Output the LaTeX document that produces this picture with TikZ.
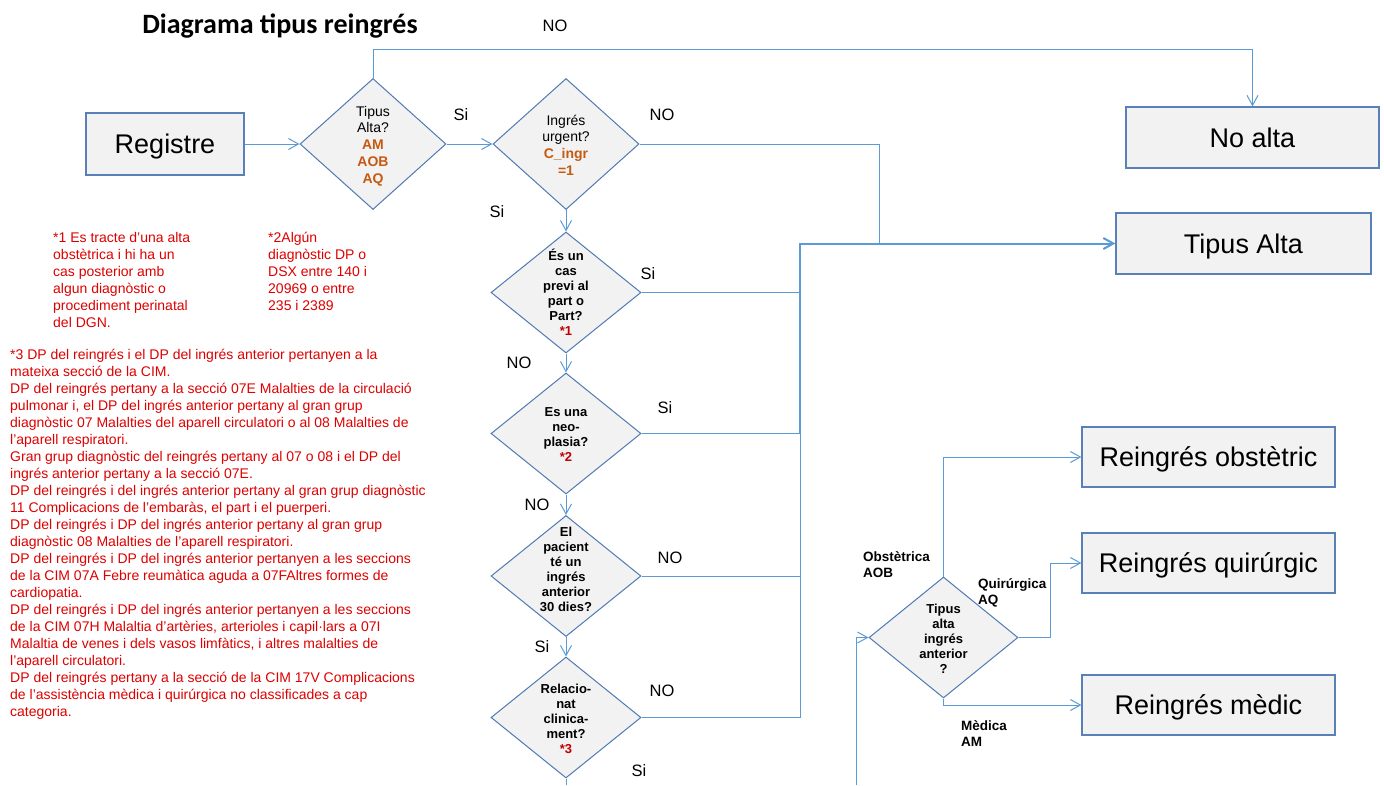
\documentclass[tikz,border=0pt]{standalone}
\usepackage{fontspec}
\setmainfont{Liberation Sans}
\newfontfamily\titlefont{Carlito}
\usetikzlibrary{arrows.meta,shapes.geometric}
\definecolor{boxfill}{HTML}{F2F2F2}
\definecolor{boxline}{HTML}{5A80B8}
\definecolor{dialine}{HTML}{4F7AB2}
\definecolor{conn}{HTML}{5B9BD5}
\definecolor{orng}{HTML}{C55A11}
\definecolor{notered}{HTML}{DD0000}
\definecolor{starred}{HTML}{C00000}
\begin{document}
\begin{tikzpicture}[x=1pt,y=-1pt,
  bigbox/.style={draw=boxline, line width=1.2pt, fill=boxfill, rectangle, inner sep=0pt,
    minimum width=#1, minimum height=61pt, text height=19.4pt, text depth=0pt,
    font=\fontsize{27}{30}\selectfont},
  dia/.style={draw=dialine, line width=1pt, fill=boxfill, diamond, inner sep=0pt,
    minimum width=#1, minimum height=121pt},
  dtext/.style={align=center, font=\fontsize{13}{15}\selectfont\bfseries, inner sep=0pt},
  lbl/.style={font=\fontsize{16.5}{18}\selectfont, inner sep=0pt},
  blbl/.style={align=left, font=\fontsize{13.5}{16}\selectfont\bfseries, inner sep=0pt, anchor=west},
  note/.style={align=left, font=\fontsize{14}{17}\selectfont, text=notered, inner sep=0pt, anchor=north west},
  arr/.style={draw=conn, line width=1pt, -{Straight Barb[length=10pt,width=11pt]}},
  ln/.style={draw=conn, line width=1pt}
]
\useasboundingbox (0,0) rectangle (1384,785);

% title
\node[font=\titlefont\bfseries\fontsize{28}{30}\selectfont, inner sep=0pt] (title) at (280,26) {Diagrama tipus reingrés};

% boxes
\node[bigbox=158, minimum height=62pt] (reg) at (165,144) {Registre};
\node[bigbox=253] (noalta) at (1252.5,137.5) {No alta};
\node[bigbox=255] (talta) at (1243.5,243.5) {Tipus Alta};
\node[bigbox=253, minimum height=60pt] (ro) at (1208.5,457) {Reingrés obstètric};
\node[bigbox=253, minimum height=60pt] (rq) at (1208.5,563) {Reingrés quirúrgic};
\node[bigbox=253, minimum height=60pt] (rm) at (1208.5,705) {Reingrés mèdic};

% diamonds
\node[dia=146, minimum height=131pt] (d1) at (373,144) {};
\node[dia=146, minimum height=131pt] (d2) at (566,144) {};
\node[dia=150] (d3) at (566,292.5) {};
\node[dia=150] (d4) at (566,433.5) {};
\node[dia=150] (d5) at (566,576) {};
\node[dia=150] (d6) at (566,717.5) {};
\node[dia=149] (d7) at (943.5,637.5) {};

% diamond texts
\node[dtext, font=\fontsize{14}{16.7}\selectfont] (d1t) at (373,146)
  {Tipus\\Alta?\\\textcolor{orng}{\bfseries AM}\\\textcolor{orng}{\bfseries AOB}\\\textcolor{orng}{\bfseries AQ}};
\node[dtext, font=\fontsize{14}{16.7}\selectfont] (d2t) at (566,145)
  {Ingrés\\urgent?\\\textcolor{orng}{\bfseries C\_ingr}\\\textcolor{orng}{\bfseries =1}};
\node[dtext] (d3t) at (566,292) {És un\\cas\\previ al\\part o\\Part?\\\textcolor{starred}{*1}};
\node[dtext] (d4t) at (566,435) {Es una\\neo-\\plasia?\\\textcolor{starred}{*2}};
\node[dtext] (d5t) at (566,569.5) {El\\pacient\\té un\\ingrés\\anterior\\30 dies?};
\node[dtext] (d6t) at (566,718.5) {Relacio-\\nat\\clinica-\\ment?\\\textcolor{starred}{*3}};
\node[dtext] (d7t) at (943.5,639) {Tipus\\alta\\ingrés\\anterior\\?};

% Si / NO labels
\node[lbl] (lNOtop) at (555,26) {NO};
\node[lbl] (lSi1) at (461,115) {Si};
\node[lbl] (lNO2) at (662,115) {NO};
\node[lbl] (lSi2) at (497,212) {Si};
\node[lbl] (lSi3) at (648,274) {Si};
\node[lbl] (lNO3) at (519,363) {NO};
\node[lbl] (lSi4) at (665,408) {Si};
\node[lbl] (lNO4) at (537,505) {NO};
\node[lbl] (lNO5) at (670,558) {NO};
\node[lbl] (lSi5) at (542,647) {Si};
\node[lbl] (lNO6) at (662,691) {NO};
\node[lbl] (lSi6) at (639,771) {Si};

% branch labels of d7
\node[blbl] (lob) at (863,565) {Obstètrica\\AOB};
\node[blbl] (lq) at (978,592.5) {Quirúrgica\\AQ};
\node[blbl] (lm) at (961,734) {Mèdica\\AM};

% notes
\node[note] (n1) at (53,232) {*1 Es tracte d’una alta\\obstètrica i hi ha un\\cas posterior amb\\algun diagnòstic o\\procediment perinatal\\del DGN.};
\node[note] (n2) at (268,232) {*2Algún\\diagnòstic DP o\\DSX entre 140 i\\20969 o entre\\235 i 2389};
\node[note] (n3) at (10,349) {*3 DP del reingrés i el DP del ingrés anterior pertanyen a la\\
mateixa secció de la CIM.\\
DP del reingrés pertany a la secció 07E Malalties de la circulació\\
pulmonar i, el DP del ingrés anterior pertany al gran grup\\
diagnòstic 07 Malalties del aparell circulatori o al 08 Malalties de\\
l’aparell respiratori.\\
Gran grup diagnòstic del reingrés pertany al 07 o 08 i el DP del\\
ingrés anterior pertany a la secció 07E.\\
DP del reingrés i del ingrés anterior pertany al gran grup diagnòstic\\
11 Complicacions de l’embaràs, el part i el puerperi.\\
DP del reingrés i DP del ingrés anterior pertany al gran grup\\
diagnòstic 08 Malalties de l’aparell respiratori.\\
DP del reingrés i DP del ingrés anterior pertanyen a les seccions\\
de la CIM 07A Febre reumàtica aguda a 07FAltres formes de\\
cardiopatia.\\
DP del reingrés i DP del ingrés anterior pertanyen a les seccions\\
de la CIM 07H Malaltia d’artèries, arterioles i capil·lars a 07I\\
Malaltia de venes i dels vasos limfàtics, i altres malalties de\\
l’aparell circulatori.\\
DP del reingrés pertany a la secció de la CIM 17V Complicacions\\
de l’assistència mèdica i quirúrgica no classificades a cap\\
categoria.};

% connectors
\coordinate (jA) at (879,243.5);
\coordinate (vT) at (800,243.5);
\coordinate (vM) at (800,433.5);
\coordinate (vB) at (800,717.5);
\coordinate (bot6) at (566,785);
\coordinate (botL) at (856,785);
\coordinate (qx) at (1050,637.5);

\draw[arr] (reg.east) -- (d1.west);
\draw[arr] (d1.north) -- ++(0,-29) -| (noalta.north);
\draw[arr] (d1.east) -- (d2.west);
\draw[ln] (d2.east) -| (jA);
\draw[arr] (d2.south) -- (d3.north);
\draw[arr] (d3.south) -- (d4.north);
\draw[arr] (d4.south) -- (d5.north);
\draw[arr] (d5.south) -- (d6.north);
\draw[ln] (d6.east) -- (vB) -- (vM);
\draw[arr, line width=2pt] (vM) -- (vT) -- (talta.west);
\draw[ln] (d3.east) -- (d3.east -| vT);
\draw[ln] (d4.east) -- (vM);
\draw[ln] (d5.east) -- (d5.east -| vT);
\draw[ln] (d6.south) -- (bot6);
\draw[arr] (botL) |- (d7.west);
\draw[arr] (d7.north) |- (ro.west);
\draw[arr] (d7.east) -- (qx) |- (rq.west);
\draw[arr] (d7.south) |- (rm.west);
\end{tikzpicture}
\end{document}
